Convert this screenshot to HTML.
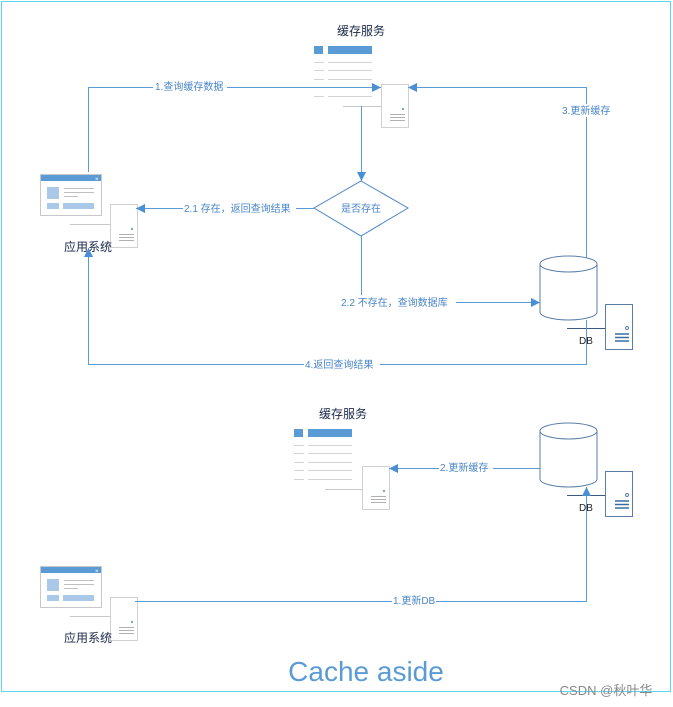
<!DOCTYPE html>
<html><head><meta charset="utf-8"><style>
html,body{margin:0;padding:0;background:#fff;}
svg{display:block;}
text{font-family:"Liberation Sans","Noto Sans CJK SC",sans-serif;}
.lbl{font-size:10px;fill:#4a86c8;}
.t{font-size:12px;fill:#1a2a4a;}
</style></head><body>
<svg width="673" height="707" viewBox="0 0 673 707" xmlns="http://www.w3.org/2000/svg">
<defs>
<marker id="ar" viewBox="0 0 10 10" refX="10" refY="5" markerWidth="11" markerHeight="9" orient="auto" markerUnits="userSpaceOnUse">
<path d="M0,0 L10,5 L0,10 z" fill="#4a8fd4"/></marker>
<g id="list">
<rect x="0" y="0" width="9" height="8" fill="#5b9bd5"/>
<rect x="14" y="0" width="44" height="8" fill="#5b9bd5"/>
<g stroke="#d4d4d4" stroke-width="1">
<line x1="0" y1="16.5" x2="10" y2="16.5"/><line x1="14" y1="16.5" x2="58" y2="16.5"/>
<line x1="0" y1="24.5" x2="10" y2="24.5"/><line x1="14" y1="24.5" x2="58" y2="24.5"/>
<line x1="0" y1="33.5" x2="10" y2="33.5"/><line x1="14" y1="33.5" x2="58" y2="33.5"/>
<line x1="0" y1="41.5" x2="10" y2="41.5"/><line x1="14" y1="41.5" x2="58" y2="41.5"/>
<line x1="0" y1="50.5" x2="10" y2="50.5"/><line x1="14" y1="50.5" x2="58" y2="50.5"/>
</g></g>
<g id="srv">
<rect x="0.5" y="0.5" width="27" height="43" fill="#fff" stroke="#d0d0d0"/>
<circle cx="22" cy="25" r="1.2" fill="#8aa"/>
<g stroke="#b0b0b0"><line x1="9" y1="30.5" x2="24" y2="30.5"/><line x1="9" y1="33.5" x2="24" y2="33.5"/><line x1="9" y1="36.5" x2="24" y2="36.5"/></g>
</g>
<g id="dbsrv">
<rect x="0.5" y="0.5" width="27" height="45" fill="#fff" stroke="#5a7ea8"/>
<circle cx="22" cy="24" r="1.5" fill="none" stroke="#5a7ea8"/>
<g stroke="#3a6aa0" stroke-width="1.5"><line x1="10" y1="30" x2="24" y2="30"/><line x1="10" y1="33.5" x2="24" y2="33.5"/><line x1="10" y1="37" x2="24" y2="37"/></g>
</g>
<g id="cyl">
<path d="M0,8 L0,56 A28.5,8 0 0 0 57,56 L57,8" fill="#fff" stroke="#5a7ea8"/>
<ellipse cx="28.5" cy="8" rx="28.5" ry="8" fill="#fff" stroke="#5a7ea8"/>
</g>
<g id="win">
<rect x="0.5" y="0.5" width="61" height="41" fill="#fff" stroke="#c8c8c8"/>
<rect x="1" y="1" width="60" height="6" fill="#5b9bd5"/>
<text x="55" y="7" font-size="6" fill="#fff">×</text>
<rect x="7" y="13" width="12" height="12" fill="#aac8e8"/>
<g stroke="#c0c0c0"><line x1="24" y1="14.5" x2="54" y2="14.5"/><line x1="24" y1="18.5" x2="54" y2="18.5"/><line x1="24" y1="22.5" x2="38" y2="22.5"/></g>
<rect x="7" y="29" width="12" height="6" fill="#aac8e8"/>
<rect x="23" y="29" width="31" height="6" fill="#aac8e8"/>
</g>
</defs>

<rect x="1.5" y="1.5" width="669" height="690" fill="none" stroke="#5cd8ee" stroke-width="1"/>

<!-- top -->
<text x="361" y="35" class="t" text-anchor="middle">缓存服务</text>
<use href="#list" x="314" y="46"/>
<line x1="343" y1="106.5" x2="381" y2="106.5" stroke="#c8c8c8"/>
<use href="#srv" x="381" y="84"/>

<use href="#win" x="40" y="174"/>
<line x1="70" y1="224.5" x2="110" y2="224.5" stroke="#c8c8c8"/>
<use href="#srv" x="110" y="204"/>
<text x="88" y="251" class="t" text-anchor="middle">应用系统</text>

<use href="#cyl" x="540" y="256"/>
<line x1="567" y1="328.5" x2="605" y2="328.5" stroke="#3a5a80"/>
<use href="#dbsrv" x="605" y="304"/>
<text x="586" y="344" font-size="10" fill="#222" text-anchor="middle">DB</text>

<polygon points="361,181 408,208 361,236 314,208" fill="#fff" stroke="#4a86c8"/>
<text x="361" y="212" class="lbl" text-anchor="middle">是否存在</text>

<g fill="none" stroke="#5b9bd5" stroke-width="1">
<path d="M88.5,172 V87.5 H381" marker-end="url(#ar)"/>
<path d="M586.5,258 V87.5 H408" marker-end="url(#ar)"/>
<path d="M361.5,106 V181" marker-end="url(#ar)"/>
<path d="M314,208.5 H136" marker-end="url(#ar)"/>
<path d="M361.5,236 V302.5 H540" marker-end="url(#ar)"/>
<path d="M586.5,320 V364.5 H88.5 V248" marker-end="url(#ar)"/>
</g>
<g class="lbl">
<rect x="153" y="80" width="74" height="13" fill="#fff"/><text x="155" y="90">1.查询缓存数据</text>
<rect x="560" y="104" width="54" height="13" fill="#fff"/><text x="562" y="114">3.更新缓存</text>
<rect x="183" y="201" width="113" height="13" fill="#fff"/><text x="184" y="212">2.1 存在，返回查询结果</text>
<rect x="340" y="295" width="116" height="13" fill="#fff"/><text x="341" y="306">2.2 不存在，查询数据库</text>
<rect x="304" y="357" width="76" height="13" fill="#fff"/><text x="305" y="368">4.返回查询结果</text>
</g>

<!-- bottom -->
<text x="343" y="418" class="t" text-anchor="middle">缓存服务</text>
<use href="#list" x="294" y="429"/>
<line x1="325" y1="489.5" x2="362" y2="489.5" stroke="#c8c8c8"/>
<use href="#srv" x="362" y="466"/>

<use href="#cyl" x="540" y="423"/>
<line x1="567" y1="495.5" x2="605" y2="495.5" stroke="#3a5a80"/>
<use href="#dbsrv" x="605" y="471"/>
<text x="586" y="511" font-size="10" fill="#222" text-anchor="middle">DB</text>

<use href="#win" x="40" y="566"/>
<line x1="70" y1="616.5" x2="110" y2="616.5" stroke="#c8c8c8"/>
<use href="#srv" x="110" y="597"/>
<text x="88" y="642" class="t" text-anchor="middle">应用系统</text>

<g fill="none" stroke="#5b9bd5">
<path d="M540,468.5 H389" marker-end="url(#ar)"/>
<path d="M135,601.5 H586.5 V487" marker-end="url(#ar)"/>
</g>
<g class="lbl">
<rect x="439" y="461" width="54" height="13" fill="#fff"/><text x="440" y="471">2.更新缓存</text>
<rect x="392" y="594" width="44" height="13" fill="#fff"/><text x="393" y="604">1.更新DB</text>
</g>

<text x="366" y="681" font-size="28" fill="#5b9bd5" text-anchor="middle">Cache aside</text>
<text x="606" y="695" font-size="13" fill="#888" text-anchor="middle">CSDN @秋叶华</text>
</svg>
</body></html>
